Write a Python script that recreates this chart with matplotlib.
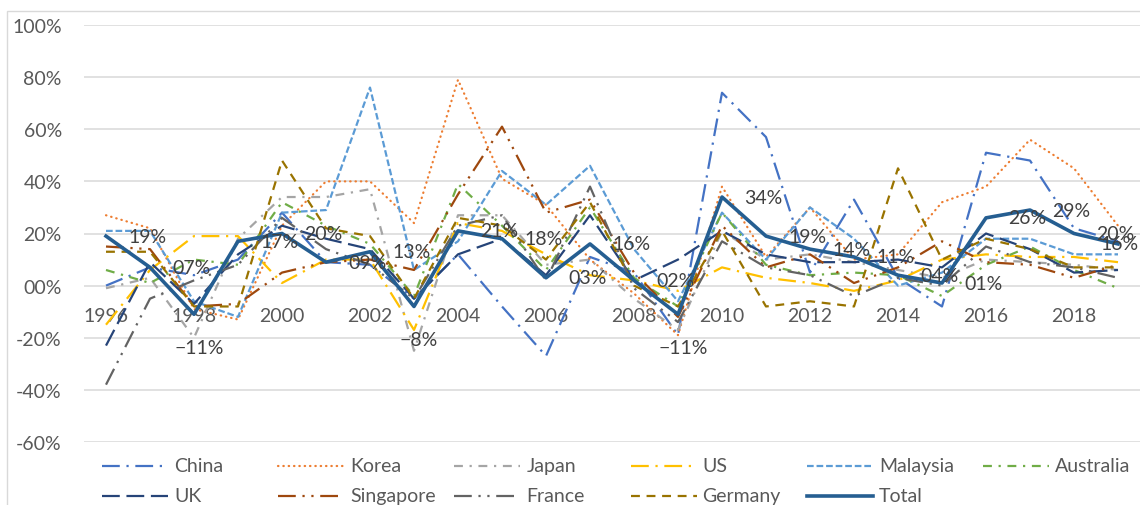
import matplotlib
matplotlib.use('Agg')
import matplotlib.pyplot as plt
from matplotlib.lines import Line2D
from matplotlib.patches import Rectangle

# data (annual growth, %)
years = list(range(1996, 2020))
china = [0, 7, 4, 10, 28, 9, 8, -5, 12, -8, -27, 11, 5, -19, 74, 57, 5, 33, 3, -8, 51, 48, 22, 17]
korea = [27, 22, -9, -13, 23, 40, 40, 24, 79, 41, 31, 10, -3, -19, 38, 11, 30, 10, 12, 32, 38, 56, 45, 23]
japan = [-1, 3, -20, 18, 34, 34, 37, -25, 27, 27, 8, 10, -5, -17, 21, 10, 12, 9, 6, 3, 10, 9, 8, 6]
us = [-15, 6, 19, 19, 1, 10, 10, -17, 24, 21, 12, 4, 2, -2, 7, 3, 1, -2, 2, 10, 12, 11, 11, 9]
malaysia = [21, 21, -6, -12, 28, 29, 76, 6, 17, 44, 31, 46, 14, -6, 28, 10, 30, 18, 0, 5, 18, 18, 12, 12]
australia = [6, 1, 10, 8, 32, 23, 16, -4, 39, 23, 6, 30, 3, -8, 28, 8, 4, 5, 4, -4, 8, 15, 6, -1]
uk = [-23, 9, -7, 12, 23, 18, 14, -5, 12, 18, 4, 27, 2, 10, 21, 12, 9, 9, 10, 7, 20, 14, 5, 6]
singapore = [15, 14, -8, -7, 5, 9, 10, 6, 35, 61, 28, 33, 5, -12, 23, 7, 12, 1, 7, 17, 9, 8, 3, 8]
france = [-38, -5, 2, 8, 26, 14, 8, -5, 23, 27, 2, 38, -1, -14, 17, 7, 4, -4, 3, 0, 15, 9, 7, 3]
germany = [13, 13, -8, -8, 48, 22, 19, -5, 26, 23, 10, 32, 0, -8, 21, -8, -6, -8, 45, 10, 18, 14, 7, 7]
total = [19, 7, -11, 17, 20, 9, 13, -8, 21, 18, 3, 16, 2, -11, 34, 19, 14, 11, 4, 1, 26, 29, 20, 16]

yticks = [-60, -40, -20, 0, 20, 40, 60, 80, 100]
ytick_labels = ['-60%', '-40%', '-20%', '00%', '20%', '40%', '60%', '80%', '100%']
xtick_years = years[::2]

names = ['China', 'Korea', 'Japan', 'US', 'Malaysia', 'Australia',
         'UK', 'Singapore', 'France', 'Germany', 'Total']
values = [china, korea, japan, us, malaysia, australia,
          uk, singapore, france, germany, total]

# colour, dash pattern (multiples of line width), cap style
styles = {
    'China': ('#4472C4', (8, 3, 1, 3), 'butt'),
    'Korea': ('#ED7D31', (0.2, 2.2), 'round'),
    'Japan': ('#A5A5A5', (4, 3, 1, 3), 'butt'),
    'US': ('#FFC000', (8, 3, 1, 3), 'butt'),
    'Malaysia': ('#5B9BD5', (3, 1.3), 'butt'),
    'Australia': ('#70AD47', (4, 3, 1, 3), 'butt'),
    'UK': ('#264478', (8, 3), 'butt'),
    'Singapore': ('#9E480E', (8, 3, 1, 3, 1, 3), 'butt'),
    'France': ('#636363', (8, 3, 1, 3, 1, 3), 'butt'),
    'Germany': ('#997300', (4, 3), 'butt'),
}
total_color = '#255E91'

plt.rcParams['font.family'] = ['Lato', 'DejaVu Sans']
text_color = '#595959'
fs = 14

W, H = 1140, 506
fig = plt.figure(figsize=(W / 100, H / 100), dpi=100)
fig.patch.set_facecolor('white')
ax = fig.add_axes([84 / W, 1 - 443 / H, 1056 / W, (443 - 26) / H])

for name, vals in zip(names, values):
    if name == 'Total':
        ax.plot(years, vals, color=total_color, lw=2.6, zorder=5)
    else:
        c, d, cap = styles[name]
        ax.plot(years, vals, color=c, lw=1.6, dashes=d, dash_capstyle=cap, zorder=3)

# data labels on the total line
for i, (yr, v) in enumerate(zip(years, total)):
    if v < 0:
        txt = '\u2212%d%%' % abs(v)
        ax.annotate(txt, (yr, v), xytext=(3.5, -24), textcoords='offset points',
                    ha='center', va='center', fontsize=fs, color='#404040',
                    annotation_clip=False, zorder=6)
    elif i == len(years) - 1:
        # last label is pushed back inside the chart edge
        ax.annotate('%02d%%' % v, (yr, v), xytext=(14.5, 0), textcoords='offset points',
                    ha='right', va='center', fontsize=fs, color='#404040',
                    annotation_clip=False, zorder=6)
    else:
        ax.annotate('%02d%%' % v, (yr, v), xytext=(16, 0), textcoords='offset points',
                    ha='left', va='center', fontsize=fs, color='#404040',
                    annotation_clip=False, zorder=6)

ax.set_xlim(1995.5, 2019.5)
ax.set_ylim(-60, 100)
ax.set_yticks(yticks)
ax.set_yticklabels(ytick_labels)
ax.set_xticks(xtick_years)
ax.set_xticklabels([str(y) for y in xtick_years])
ax.spines['bottom'].set_position(('data', 0))
for s in ax.spines.values():
    s.set_visible(False)
ax.tick_params(axis='x', length=0, pad=15.5, labelsize=fs, labelcolor=text_color)
ax.tick_params(axis='y', length=0, pad=16, labelsize=fs, labelcolor=text_color)
ax.grid(axis='y', color='#D9D9D9', lw=1.1)
ax.set_axisbelow(True)

# chart border
fig.add_artist(Rectangle((7 / W, -0.5), 2, 0.5 + 1 - 12 / H, transform=fig.transFigure,
                         fill=False, edgecolor='#D9D9D9', lw=1))

# legend: six equal columns, two rows
for i, name in enumerate(names):
    row, col = divmod(i, 6)
    x0 = 102 + col * 176.2
    yy = 1 - (467 + row * 29.5) / H
    if name == 'Total':
        h = Line2D([x0 / W, (x0 + 66) / W], [yy, yy], transform=fig.transFigure,
                   color=total_color, lw=2.6)
    else:
        c, d, cap = styles[name]
        h = Line2D([x0 / W, (x0 + 66) / W], [yy, yy], transform=fig.transFigure,
                   color=c, lw=1.6, dashes=d, dash_capstyle=cap)
    fig.add_artist(h)
    fig.text((x0 + 72) / W, yy, name, ha='left', va='center', fontsize=fs, color=text_color)

fig.savefig('out.png', dpi=100)
